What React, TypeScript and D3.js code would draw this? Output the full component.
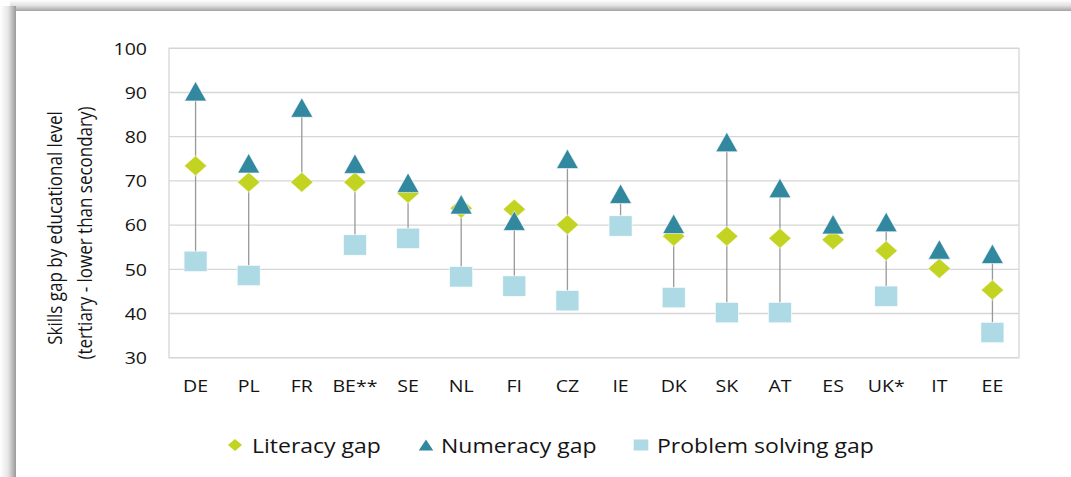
import React, { useEffect } from "react";
import * as d3 from "d3";

const categories = ["DE", "PL", "FR", "BE**", "SE", "NL", "FI", "CZ", "IE", "DK", "SK", "AT", "ES", "UK*", "IT", "EE"];
const literacy: (number | null)[] = [73.4, 69.7, 69.7, 69.7, 67.2, 63.8, 63.6, 60.1, 59.8, 57.5, 57.5, 57.0, 56.7, 54.2, 50.2, 45.3];
const numeracy: (number | null)[] = [90.3, 74.0, 86.6, 73.9, 69.6, 64.7, 61.0, 75.0, 67.1, 60.3, 78.8, 68.4, 60.2, 60.7, 54.5, 53.5];
const problemSolving: (number | null)[] = [51.8, 48.6, null, 55.5, 57.0, 48.3, 46.2, 42.9, 59.8, 43.6, 40.2, 40.2, null, 43.9, null, 35.7];
const yTicks = [30, 40, 50, 60, 70, 80, 90, 100];
const legendLabels = ["Literacy gap", "Numeracy gap", "Problem solving gap"];
const titleLines = ["Skills gap by educational level", "(tertiary - lower than secondary)"];

const W = 1071;
const H = 477;
const plot = { left: 169, right: 1019, top: 48.3, bottom: 357.7 };
const FONT = "'Open Sans', 'Noto Sans', sans-serif";
const SX = 1.15;
const TEXT = "#141414";

const C_LIT = "#C2D321";
const C_NUM = "#31889F";
const C_PS = "#ADDAE5";

function diamondPath(cx: number, cy: number, w: number, h: number) {
  return `M${cx},${cy - h / 2}L${cx + w / 2},${cy}L${cx},${cy + h / 2}L${cx - w / 2},${cy}Z`;
}
function trianglePath(cx: number, cy: number, w: number, h: number) {
  return `M${cx},${cy - h / 2}L${cx + w / 2},${cy + h / 2}L${cx - w / 2},${cy + h / 2}Z`;
}

function SText({ x, y, size, anchor = "start", rotate = 0, children }: any) {
  return (
    <text
      transform={`translate(${x},${y}) scale(${SX},1)${rotate ? ` rotate(${rotate})` : ""}`}
      fontFamily={FONT}
      fontSize={size}
      fill={TEXT}
      textAnchor={anchor}
    >
      {children}
    </text>
  );
}

export default function App() {
  useEffect(() => {
    document.body.style.margin = "0";
  }, []);

  const x = d3.scaleBand<string>().domain(categories).range([plot.left, plot.right]).padding(0);
  const y = d3.scaleLinear().domain([30, 100]).range([plot.bottom, plot.top]);
  const cx = (c: string) => (x(c) as number) + x.bandwidth() / 2;

  const ranges = categories.map((c, i) => {
    const vals = [literacy[i], numeracy[i], problemSolving[i]].filter((v) => v != null) as number[];
    return { c, min: d3.min(vals) as number, max: d3.max(vals) as number };
  });

  const legendY = 445;
  const legendItems = [
    { mx: 235, tx: 252, kind: "diamond", color: C_LIT, label: legendLabels[0] },
    { mx: 426, tx: 441, kind: "triangle", color: C_NUM, label: legendLabels[1] },
    { mx: 641, tx: 657, kind: "square", color: C_PS, label: legendLabels[2] },
  ];

  return (
    <svg width={W} height={H} style={{ position: "absolute", left: 0, top: 0, display: "block" }}>
      <defs>
        <linearGradient id="shL" x1="0" x2="1" y1="0" y2="0">
          <stop offset="0" stopColor="#ffffff" />
          <stop offset="0.5" stopColor="#e6e6e6" />
          <stop offset="1" stopColor="#999999" />
        </linearGradient>
        <linearGradient id="shT" x1="0" x2="0" y1="0" y2="1">
          <stop offset="0" stopColor="#ffffff" />
          <stop offset="0.5" stopColor="#e2e2e2" />
          <stop offset="1" stopColor="#a3a3a3" />
        </linearGradient>
      </defs>
      <rect x={0} y={0} width={W} height={H} fill="#ffffff" />
      <rect x={10} y={0} width={W - 10} height={11} fill="url(#shT)" />
      <rect x={0} y={6} width={16} height={H - 6} fill="url(#shL)" />
      <rect x={16} y={11} width={W - 16} height={H - 11} fill="#ffffff" />

      {/* gridlines */}
      {yTicks.map((t) => (
        <line key={t} x1={plot.left} x2={plot.right} y1={y(t)} y2={y(t)} stroke="#d6d6d6" strokeWidth={1.3} />
      ))}
      <rect
        x={plot.left}
        y={plot.top}
        width={plot.right - plot.left}
        height={plot.bottom - plot.top}
        fill="none"
        stroke="#d6d6d6"
        strokeWidth={1.3}
      />

      {/* y tick labels */}
      {yTicks.map((t) => (
        <SText key={t} x={147} y={y(t) + 6.3} size={17} anchor="end">
          {t}
        </SText>
      ))}

      {/* category labels */}
      {categories.map((c) => (
        <SText key={c} x={cx(c)} y={392} size={17} anchor="middle">
          {c}
        </SText>
      ))}

      {/* y title */}
      <SText x={62} y={228} size={17} anchor="middle" rotate={-90}>
        {titleLines[0]}
      </SText>
      <SText x={92} y={233} size={17} anchor="middle" rotate={-90}>
        {titleLines[1]}
      </SText>

      {/* high-low lines */}
      {ranges.map((r) => (
        <line key={r.c} x1={cx(r.c)} x2={cx(r.c)} y1={y(r.max)} y2={y(r.min)} stroke="#999999" strokeWidth={1.3} />
      ))}

      {/* literacy diamonds */}
      {categories.map((c, i) =>
        literacy[i] == null ? null : (
          <path key={"l" + c} d={diamondPath(cx(c), y(literacy[i] as number), 22.5, 20)} fill={C_LIT} stroke="#ffffff" strokeWidth={0.6} />
        )
      )}
      {/* numeracy triangles */}
      {categories.map((c, i) =>
        numeracy[i] == null ? null : (
          <path key={"n" + c} d={trianglePath(cx(c), y(numeracy[i] as number), 22, 19.5)} fill={C_NUM} stroke="#ffffff" strokeWidth={0.6} />
        )
      )}
      {/* problem solving squares */}
      {categories.map((c, i) =>
        problemSolving[i] == null ? null : (
          <rect
            key={"p" + c}
            x={cx(c) - 11.5}
            y={y(problemSolving[i] as number) - 10.2}
            width={23}
            height={20.4}
            fill={C_PS}
            stroke="#ffffff"
            strokeWidth={0.6}
          />
        )
      )}

      {/* legend */}
      {legendItems.map((it) => (
        <g key={it.label}>
          {it.kind === "diamond" && <path d={diamondPath(it.mx, legendY, 14, 12)} fill={it.color} />}
          {it.kind === "triangle" && <path d={trianglePath(it.mx, legendY, 14.5, 11)} fill={it.color} />}
          {it.kind === "square" && <rect x={it.mx - 7.3} y={legendY - 5.5} width={14.6} height={11} fill={it.color} />}
          <SText x={it.tx} y={legendY + 7.5} size={20}>
            {it.label}
          </SText>
        </g>
      ))}
    </svg>
  );
}
